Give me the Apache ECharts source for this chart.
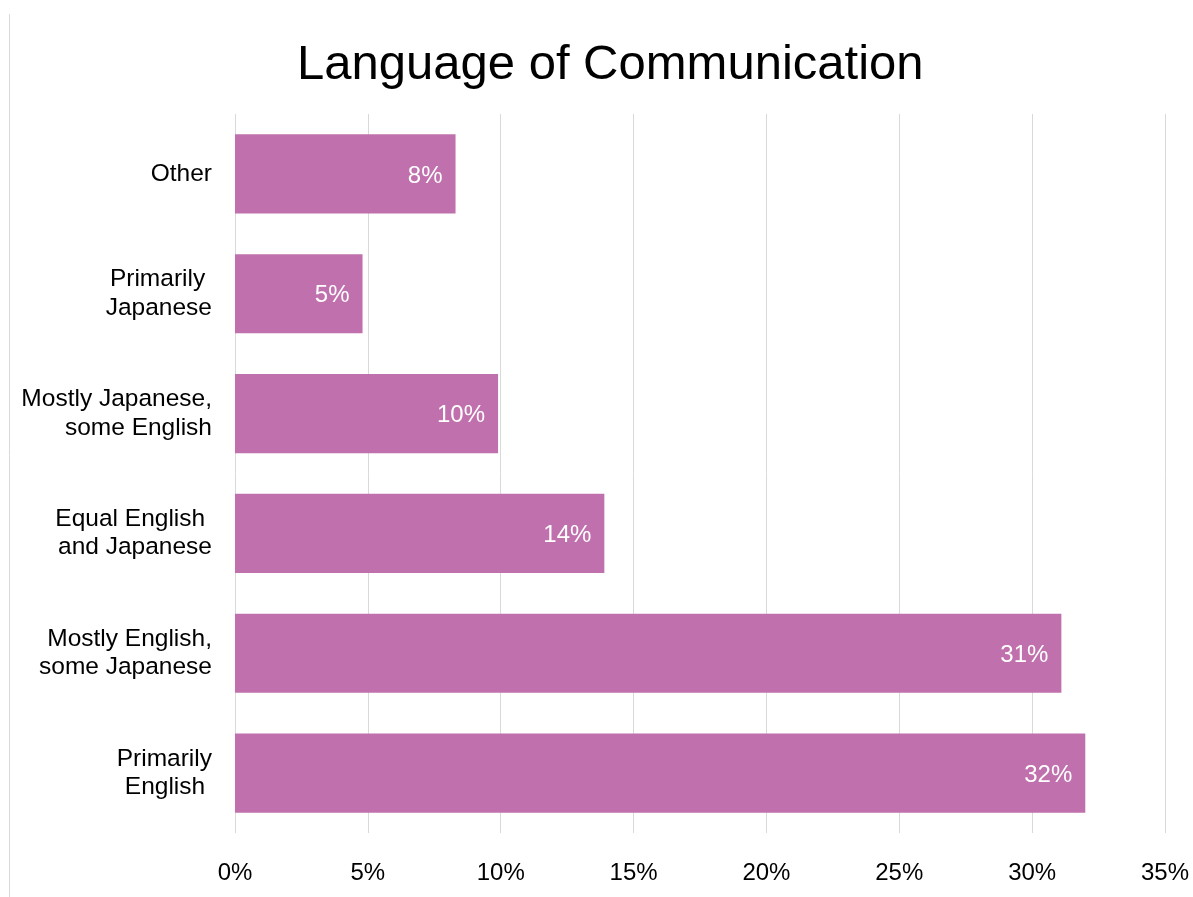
<!DOCTYPE html>
<html>
<head>
<meta charset="utf-8">
<title>Language of Communication</title>
<script src="https://cdn.jsdelivr.net/npm/echarts@6/dist/echarts.min.js"></script>
<style>
  html, body { margin: 0; padding: 0; background: #ffffff; }
  #chart { width: 1193px; height: 897px; }
</style>
</head>
<body>
<div id="chart"></div>
<script>
// Categories listed bottom to top (category axis runs upward)
const categories = [
  'Primarily\nEnglish ',
  'Mostly English,\nsome Japanese',
  'Equal English \nand Japanese',
  'Mostly Japanese,\nsome English',
  'Primarily \nJapanese',
  'Other'
];
// Share of respondents, percent
const shares = [32.0, 31.1, 13.9, 9.9, 4.8, 8.3];
// Value axis ticks
const axisMin = 0;
const axisMax = 35;
const axisStep = 5;

const FONT = '"Liberation Sans", Arial, sans-serif';

const chart = echarts.init(document.getElementById('chart'));
chart.setOption({
  backgroundColor: '#ffffff',
  animation: false,
  title: {
    text: 'Language of Communication',
    left: 292,
    top: 36,
    textStyle: { fontFamily: FONT, fontSize: 49, fontWeight: 'normal', color: '#000000' }
  },
  graphic: [{
    type: 'line',
    shape: { x1: 9.5, y1: 14, x2: 9.5, y2: 897 },
    style: { stroke: '#d9d9d9', lineWidth: 1 }
  }],
  grid: { left: 235, right: 28, top: 114, bottom: 64, containLabel: false },
  xAxis: {
    type: 'value',
    min: axisMin,
    max: axisMax,
    interval: axisStep,
    axisLine: { show: false },
    axisTick: { show: false },
    splitLine: { show: true, lineStyle: { color: '#d9d9d9', width: 1 } },
    axisLabel: {
      formatter: '{value}%',
      fontFamily: FONT,
      fontSize: 24,
      color: '#000000',
      margin: 28
    }
  },
  yAxis: {
    type: 'category',
    data: categories,
    axisLine: { show: false },
    axisTick: { show: false },
    axisLabel: {
      fontFamily: FONT,
      fontSize: 24.5,
      lineHeight: 28.5,
      color: '#000000',
      margin: 23,
      align: 'right',
      padding: [5, 0, 0, 0]
    }
  },
  series: [{
    type: 'bar',
    data: shares,
    barCategoryGap: '34%',
    itemStyle: { color: '#c070ad' },
    label: {
      show: true,
      position: 'insideRight',
      distance: 13,
      offset: [0, 2],
      formatter: p => Math.round(p.value) + '%',
      fontFamily: FONT,
      fontSize: 24,
      color: '#ffffff'
    }
  }]
});
</script>
</body>
</html>
